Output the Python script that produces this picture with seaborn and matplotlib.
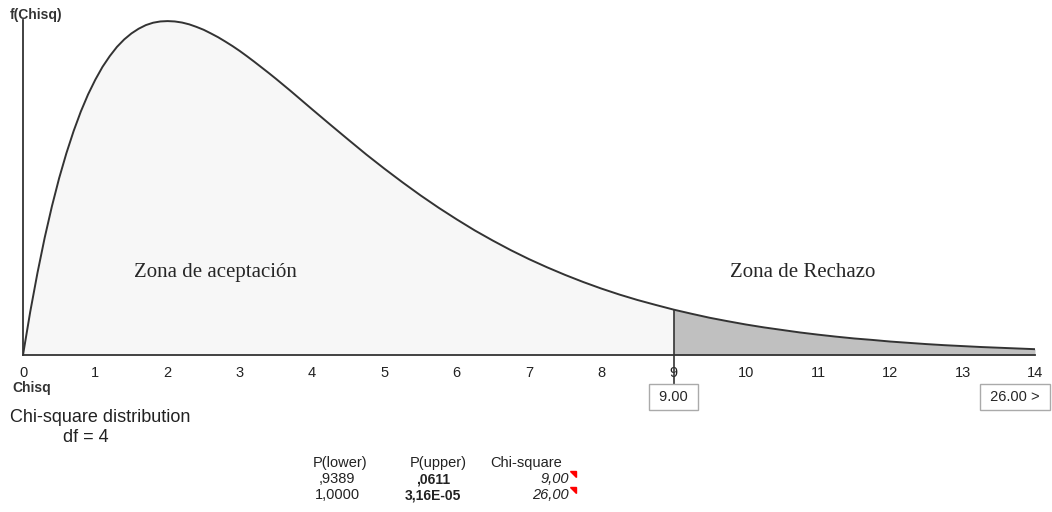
import matplotlib.pyplot as plt
import matplotlib.patches as mpatches
import seaborn as sns
import pandas as pd

# Chi-square density (df = 4):
# every 0.1 up to 4, then every 0.25 up to 14
chisq = [i / 10 for i in range(41)] + [4 + 0.25 * i for i in range(1, 41)]
density = [0.0000, 0.0238, 0.0452, 0.0646, 0.0819, 0.0974, 0.1111, 0.1233, 0.1341,
           0.1435, 0.1516, 0.1587, 0.1646, 0.1697, 0.1738, 0.1771, 0.1797, 0.1817,
           0.1830, 0.1837, 0.1839, 0.1837, 0.1831, 0.1821, 0.1807, 0.1791, 0.1771,
           0.1750, 0.1726, 0.1701, 0.1674, 0.1645, 0.1615, 0.1584, 0.1553, 0.1521,
           0.1488, 0.1455, 0.1421, 0.1387, 0.1353,
           0.1269, 0.1186, 0.1104, 0.1026, 0.0951, 0.0879, 0.0811, 0.0747, 0.0686,
           0.0630, 0.0577, 0.0528, 0.0483, 0.0441, 0.0402, 0.0366, 0.0333, 0.0303,
           0.0276, 0.0250, 0.0227, 0.0205, 0.0186, 0.0168, 0.0152, 0.0138, 0.0124,
           0.0112, 0.0101, 0.0091, 0.0083, 0.0074, 0.0067, 0.0060, 0.0054, 0.0049,
           0.0044, 0.0040, 0.0036, 0.0032]
critical = 9
x_ticks = list(range(15))

# results table
table_cols = ['P(lower)', 'P(upper)', 'Chi-square']
p_lower = [',9389', '1,0000']
p_upper = [',0611', '3,16E-05']
chi_vals = ['9,00', '26,00']

df = pd.DataFrame({'x': chisq, 'y': density})
accept = df[df['x'] <= critical]
reject = df[df['x'] >= critical]

sns.set_style('white')
plt.rcParams['font.family'] = ['Liberation Sans', 'DejaVu Sans']

W, H = 1052, 512
fig = plt.figure(figsize=(W / 100, H / 100), dpi=100)
ax = fig.add_axes([23 / W, 1 - 355 / H, (1035 - 23) / W, (355 - 20) / H])

# shaded zones
ax.fill_between(accept['x'], accept['y'], color='#f7f7f7', lw=0)
ax.fill_between(reject['x'], reject['y'], color='#c0c0c0', lw=0)
sns.lineplot(data=df, x='x', y='y', ax=ax, color='#333333', lw=1.4)

f_crit = float(df.loc[df['x'] == critical, 'y'].iloc[0])
ax.plot([critical, critical], [-0.0181, f_crit], color='#333333', lw=1.2, clip_on=False)

ax.set_xlim(0, 14)
ax.set_ylim(0, 0.1845)
ax.set_xticks(x_ticks)
ax.set_xticklabels([str(t) for t in x_ticks], fontsize=10.5, color='#222222')
ax.set_yticks([])
ax.tick_params(axis='x', direction='out', length=6.5, width=1.3, color='#555555', pad=1.5)
ax.set_xlabel('')
ax.set_ylabel('')
for s in ['top', 'right']:
    ax.spines[s].set_visible(False)
for s in ['left', 'bottom']:
    ax.spines[s].set_color('#333333')
    ax.spines[s].set_linewidth(1.3)

# zone labels
ax.text(2.66, 0.0455, 'Zona de aceptación', fontsize=15, family='Liberation Serif',
        ha='center', va='center')
ax.text(10.78, 0.0455, 'Zona de Rechazo', fontsize=15, family='Liberation Serif',
        ha='center', va='center')

# boxed critical values under the axis
box = dict(boxstyle='square,pad=0.42', fc='white', ec='#aaaaaa', lw=1)
ax.text(critical, -0.0232, ' 9.00 ', fontsize=10.5, ha='center', va='center', bbox=box)
ax.text(13.72, -0.0232, ' 26.00 > ', fontsize=10.5, ha='center', va='center', bbox=box)


def fx(px):
    return px / W


def fy(py):
    return 1 - py / H


fig.text(fx(10), fy(15), 'f(Chisq)', fontsize=10, fontweight='bold', color='#333333', va='center')
fig.text(fx(12), fy(388), 'Chisq', fontsize=10, fontweight='bold', color='#333333', va='center')
fig.text(fx(10), fy(417), 'Chi-square distribution', fontsize=13, color='#222222', va='center')
fig.text(fx(63), fy(437), 'df = 4', fontsize=13, color='#222222', va='center')

# table
col_x = [313, 410, 490]
for cx, name in zip(col_x, table_cols):
    fig.text(fx(cx), fy(463), name, fontsize=10.5, va='center', color='#222222')
for i in range(2):
    ry = fy(479 + 16 * i)
    fig.text(fx(337), ry, p_lower[i], fontsize=10.5, ha='center', va='center', color='#222222')
    fig.text(fx(433), ry, p_upper[i], fontsize=10, fontweight='bold', ha='center',
             va='center', color='#222222')
    fig.text(fx(569), ry, chi_vals[i], fontsize=10.5, style='italic', ha='right',
             va='center', color='#222222')
    ty = 471 + 16 * i
    tri = mpatches.Polygon([(fx(570), fy(ty)), (fx(576), fy(ty)), (fx(576), fy(ty + 6))],
                           closed=True, color='red', transform=fig.transFigure)
    fig.patches.append(tri)

fig.savefig('out.png', dpi=100)
